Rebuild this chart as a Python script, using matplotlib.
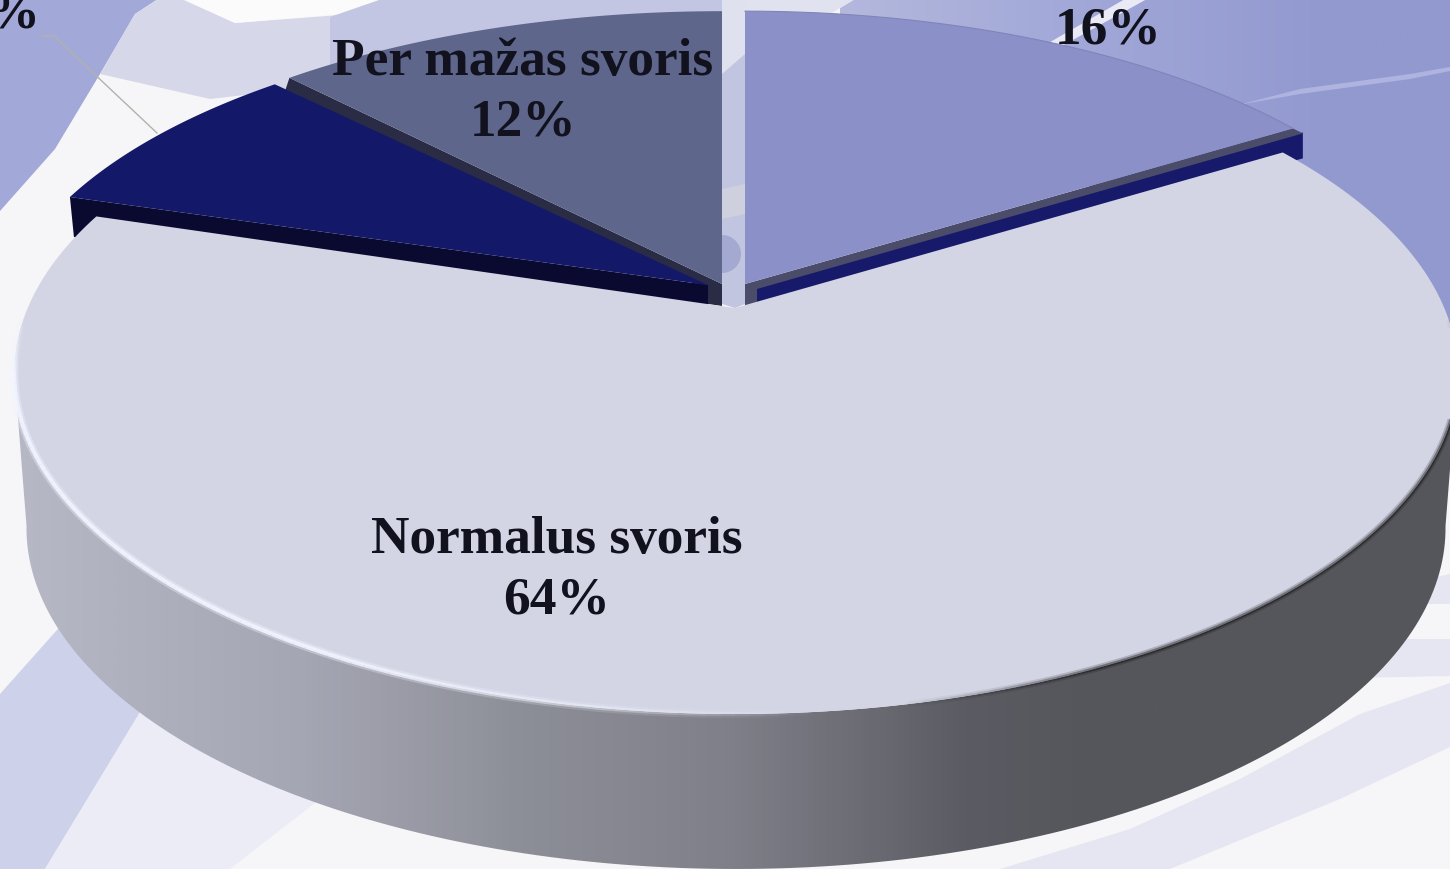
import numpy as np
import matplotlib
matplotlib.use("Agg")
import matplotlib.pyplot as plt
from matplotlib.patches import Polygon, Circle
from matplotlib.collections import LineCollection
from matplotlib.colors import LinearSegmentedColormap

# ---- data (clockwise from 12 o'clock)
categories = ["", "Normalus svoris", "", "Per mažas svoris"]
values = [16, 64, 8, 12]
percent_labels = ["16%", "64%", "8%", "12%"]

TEXT = "#12121f"
plt.rcParams["font.family"] = ["Liberation Serif", "DejaVu Serif"]

fig = plt.figure(figsize=(14.5, 8.7), dpi=100)
ax = fig.add_axes([0, 0, 1, 1])
ax.axis("off")
fig.patch.set_facecolor("#f6f6f8")


def poly(pts, color, z, **kw):
    ax.add_patch(Polygon(pts, closed=True, facecolor=color, edgecolor="none", zorder=z, **kw))


# ---- background swooshes
poly([(0, 0), (1450, 0), (1450, 870), (0, 870)], "#f6f6f8", 0)
poly([(0, 0), (158, 0), (135, 15), (100, 75), (55, 150), (0, 212)], "#a2a8d8", 1)
poly([(158, 0), (182, 0), (235, 24), (340, 16), (340, 85), (210, 100), (100, 75), (135, 15)], "#d6d8ea", 1)
poly([(182, 0), (382, 0), (340, 15), (235, 24)], "#fbfbfc", 1)
poly([(330, 18), (382, 0), (745, 0), (745, 40), (330, 90)], "#c3c6e2", 1.1)
poly([(722, 0), (855, 0), (830, 15), (722, 15)], "#e1e2ef", 1.3)

sky = Polygon([(830, 15), (855, 0), (1450, 0), (1450, 430), (1300, 430), (1040, 130), (830, 40)],
              closed=True, facecolor="none", edgecolor="none", zorder=1.2)
ax.add_patch(sky)
sky_cmap = LinearSegmentedColormap.from_list("sky", [(0, "#b4b8dd"), (0.35, "#a3a9d8"), (0.8, "#9299cf"), (1, "#9299cf")])
sky_im = ax.imshow(np.linspace(0, 1, 256)[None, :], extent=(840, 1450, 430, 0), cmap=sky_cmap, aspect="auto", zorder=1.2)
sky_im.set_clip_path(sky)

poly([(1125, 0), (1147, 0), (1060, 48), (1045, 46)], "#e9eaf5", 2)
poly([(1238, 106), (1300, 90), (1410, 75), (1450, 68), (1450, 72), (1410, 80), (1300, 95)], "#aeb3e0", 2)
poly([(0, 695), (65, 622), (142, 710), (45, 870), (0, 870)], "#cdd1ea", 1)
poly([(142, 710), (320, 800), (230, 870), (45, 870)], "#ebecf6", 1)
poly([(1380, 590), (1450, 575), (1450, 605), (1350, 605)], "#e6e6f2", 1)
poly([(1330, 640), (1450, 640), (1450, 677), (1300, 680)], "#e6e6f2", 1)
poly([(1130, 830), (1240, 780), (1360, 715), (1450, 684), (1450, 748), (1340, 800), (1170, 870), (1000, 870)],
     "#e6e6f3", 1)

# gap between the two exploded top slices
poly([(722, 0), (745, 0), (745, 305), (735, 309), (722, 305)], "#c2c5df", 2)
poly([(722, 0), (745, 0), (745, 55), (722, 75)], "#e0e1ee", 2.02)
poly([(722, 190), (745, 185), (745, 215), (722, 220)], "#cfd0de", 2.05)
ax.add_patch(Circle((722, 255), 19, facecolor="#a4a9d2", edgecolor="none", zorder=2.1))

# ---- pie geometry: perspective projection per slice (cx, a, kx, A, B, k), apex
geom = {
    0: (745, 701, 0.15, -271, 285, 0.15),
    1: (736, 710, 0.18, -269.8, 313.2, 0.1846),
    2: (708, 702, 0.15, -268, 290, 0.15),
    3: (722, 701, 0.15, -271, 285, 0.15),
}
apexes = {0: (745, 285), 1: (735, 309), 2: (708, 286), 3: (722, 285)}
face_cols = ["#8b91c8", "#d3d5e5", "#141868", "#5f668c"]
fractions = np.array(values) / np.sum(values)
edges = np.concatenate([[0], np.cumsum(fractions)]) * 2 * np.pi


def project(i, th):
    cx, a, kx, A, B, k = geom[i]
    u, v = np.sin(th), np.cos(th)
    return np.column_stack([cx + a * u / (1 + kx * v), (A * v + B) / (1 + k * v)])


def face(i):
    th = np.linspace(edges[i], edges[i + 1], 240)
    rim = project(i, th)
    return np.vstack([np.array([apexes[i]], dtype=float), rim]), rim


faces = {i: face(i) for i in range(4)}

# 12% slice: side faces
p, rim = faces[3]
apex, corner = p[0], rim[0]
poly([corner, apex, apex + (0, 22), apex + (-14, 20), apex + (-14, 6), corner + (-4, 12)], "#2a2c45", 3)
poly(p, face_cols[3], 3.1)

# 8% slice
p, rim = faces[2]
apex, corner = p[0], rim[0]
poly([corner, apex, apex + (0, 22), corner + (4, 40)], "#0a0a30", 3.2)
poly(p, face_cols[2], 3.3)

# 16% slice
p, rim = faces[0]
apex, corner = p[0], rim[-1]
poly([corner + (10, 4), apex + (12, 3), apex + (12, 24), corner + (10, 30)], "#171a6b", 3.4)
poly([corner, apex, apex + (0, 25), apex + (12, 20), apex + (12, 5), corner + (10, 5)], "#4a4c6a", 3.5)
poly(p, face_cols[0], 3.6)
ax.plot(rim[:, 0], rim[:, 1], color="#7f85b8", lw=0.8, zorder=3.7)

# 64% slice: wall (front part only, between the rim's extremes) and the face
p, rim = faces[1]
cx = geom[1][0]
i_r, i_l = int(np.argmax(rim[:, 0])), int(np.argmin(rim[:, 0]))
front_rim = rim[i_r:i_l + 1]
lower = np.column_stack([cx + (front_rim[:, 0] - cx) * 0.983, front_rim[:, 1] + 155])
wall = Polygon(np.vstack([front_rim, lower[::-1]]), closed=True, facecolor="none", edgecolor="none", zorder=4)
ax.add_patch(wall)
stops = [(0.0, "#b6b8c6"), (0.2, "#a5a6b3"), (0.35, "#8d8f98"), (0.5, "#7f7f89"),
         (0.66, "#5b5c63"), (0.75, "#55565b"), (1.0, "#55565b")]
cmap = LinearSegmentedColormap.from_list("wall", stops)
im = ax.imshow(np.linspace(0, 1, 512)[None, :], extent=(15, 1455, 870, 0), cmap=cmap, aspect="auto", zorder=4)
im.set_clip_path(wall)
poly(p, face_cols[1], 4.5)

# rim highlight (white on the left) and soft shadow (on the right)
front = rim[(rim[:, 1] > 300)]
segs = np.stack([front[:-1], front[1:]], axis=1)
xm = segs[:, :, 0].mean(axis=1)
ym = segs[:, :, 1].mean(axis=1)
alpha = np.clip((820 - xm) / 500, 0, 1) * np.clip((ym - 320) / 60, 0, 1)
for lw, scale in ((6.0, 0.35), (3.0, 0.9)):
    cols = np.tile((0.95, 0.96, 1.0, 0.0), (len(segs), 1))
    cols[:, 3] = alpha * scale
    ax.add_collection(LineCollection(segs, colors=cols, linewidths=lw, zorder=4.6))
for lw, scale in ((5.0, 0.18), (2.5, 0.35)):
    cols2 = np.zeros((len(segs), 4))
    cols2[:, 3] = np.clip((xm - 900) / 200, 0, 1) * scale * np.clip((ym - 320) / 60, 0, 1)
    ax.add_collection(LineCollection(segs, colors=cols2, linewidths=lw, zorder=4.6))

# ---- leader line
ax.plot([42, 54, 157], [37, 37, 134], color="#b2b2aa", lw=1.0, zorder=5)

# ---- labels
fs = 38.4
ax.text(557, 570, f"{categories[1]}\n{percent_labels[1]}", ha="center", va="center",
        fontsize=fs, fontweight="bold", color=TEXT, zorder=6, linespacing=1.35)
ax.text(523, 92, f"{categories[3]}\n{percent_labels[3]}", ha="center", va="center",
        fontsize=fs, fontweight="bold", color=TEXT, zorder=6, linespacing=1.33)
ax.text(1108, 30, percent_labels[0], ha="center", va="center",
        fontsize=fs, fontweight="bold", color=TEXT, zorder=6)
ax.text(40, 15, percent_labels[2], ha="right", va="center",
        fontsize=fs, fontweight="bold", color=TEXT, zorder=6, clip_on=True)

ax.set_xlim(0, 1450)
ax.set_ylim(870, 0)
fig.savefig("out.png", dpi=100)
